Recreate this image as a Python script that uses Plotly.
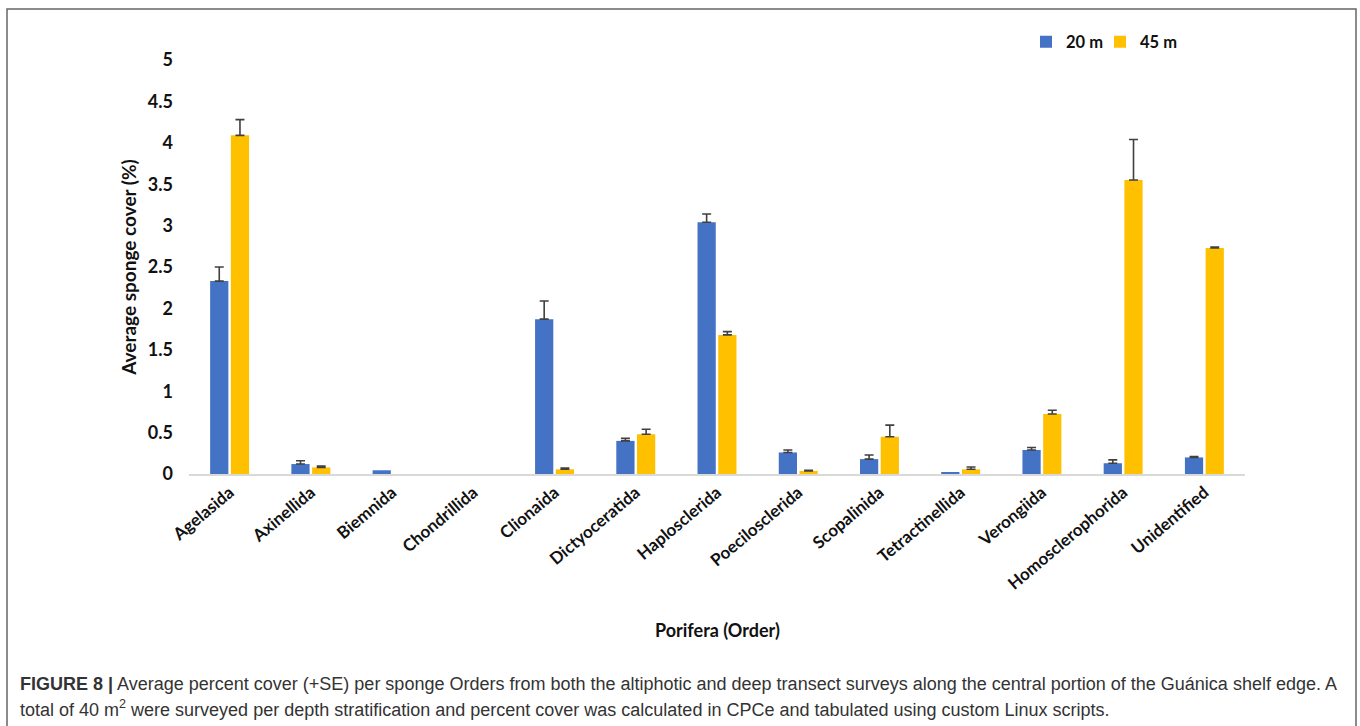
import plotly.graph_objects as go

# Sponge orders surveyed
orders = ["Agelasida", "Axinellida", "Biemnida", "Chondrillida", "Clionaida",
          "Dictyoceratida", "Haplosclerida", "Poecilosclerida", "Scopalinida",
          "Tetractinellida", "Verongiida", "Homosclerophorida", "Unidentified"]

# Average percent cover and standard error at each depth (None = no error bar)
cover_20m = [2.33, 0.12, 0.045, 0.0, 1.87, 0.40, 3.04, 0.26, 0.18, 0.024, 0.29, 0.13, 0.20]
se_20m = [0.17, 0.04, None, None, 0.22, 0.03, 0.10, 0.03, 0.05, None, 0.03, 0.04, 0.01]
cover_45m = [4.09, 0.08, 0.0, 0.0, 0.057, 0.48, 1.68, 0.036, 0.45, 0.057, 0.725, 3.55, 2.73]
se_45m = [0.19, 0.015, None, None, 0.015, 0.06, 0.04, 0.01, 0.14, 0.028, 0.045, 0.49, 0.01]

y_ticks = [0, 0.5, 1, 1.5, 2, 2.5, 3, 3.5, 4, 4.5, 5]

BLUE = "#4472C4"
GOLD = "#FFC000"
ERR = "#404040"
CHART_FONT = "Lato, Open Sans, sans-serif"
CAPTION_FONT = "Liberation Sans Narrow, Arial Narrow, Liberation Sans, Arial, sans-serif"

W, H = 1360, 726
ML, MR, MT, MB = 189, 115, 60, 252
PW, PH = W - ML - MR, H - MT - MB


def px_x(p):
    return (p - ML) / PW


def px_y(p):
    return 1 - (p - MT) / PH


def up_only(se):
    # plotly.js skips an error bar whose plus and minus values are both NaN
    plus = [s if s is not None else "NaN" for s in se]
    minus = [0 if s is not None else "NaN" for s in se]
    return dict(type="data", array=plus, arrayminus=minus, symmetric=False,
                color=ERR, thickness=1.6, width=4.5)


def legend_box(left_px):
    return dict(orientation="h", x=px_x(left_px), y=px_y(42), xanchor="left",
                yanchor="middle", font=dict(size=16.5, family=CHART_FONT, weight="bold"),
                itemwidth=30, bgcolor="rgba(0,0,0,0)")


fig = go.Figure()
fig.add_trace(go.Bar(name="20 m", x=orders, y=cover_20m, marker_color=BLUE,
                     marker_line_width=0, error_y=up_only(se_20m), legend="legend"))
fig.add_trace(go.Bar(name="45 m", x=orders, y=cover_45m, marker_color=GOLD,
                     marker_line_width=0, error_y=up_only(se_45m), legend="legend2"))

fig.update_layout(
    width=W, height=H,
    margin=dict(l=ML, r=MR, t=MT, b=MB),
    paper_bgcolor="white", plot_bgcolor="white",
    barmode="group", bargap=0.49, bargroupgap=0.12,
    font=dict(family=CHART_FONT, color="#111111"),
    showlegend=True,
    legend=legend_box(1026),
    legend2=legend_box(1100),
)

fig.update_xaxes(
    type="category", tickangle=-40, showgrid=False, zeroline=False,
    showline=True, linecolor="#d9d9d9", linewidth=2, ticks="",
    tickfont=dict(size=17, family=CHART_FONT, weight="bold", color="#111111"),
)
fig.update_yaxes(
    range=[0, 5], tickvals=y_ticks, showgrid=False, zeroline=False,
    showline=False, ticks="", ticklabelstandoff=15,
    tickfont=dict(size=18, family=CHART_FONT, weight="bold", color="#111111"),
    title=dict(text="Average sponge cover (%)", standoff=6,
               font=dict(size=19, family=CHART_FONT, weight="bold", color="#111111")),
)

# x-axis title
fig.add_annotation(
    text="<b>Porifera (Order)</b>", xref="paper", yref="paper",
    x=0.5, y=px_y(630), xanchor="center", yanchor="middle", showarrow=False,
    font=dict(size=18, family=CHART_FONT, color="#111111"),
)

# figure caption
fig.add_annotation(
    text="<b>FIGURE 8 |</b> Average percent cover (+SE) per sponge Orders from both the "
         "altiphotic and deep transect surveys along the central portion of the Guánica shelf edge. A",
    xref="paper", yref="paper", x=px_x(18), y=px_y(684), xanchor="left",
    yanchor="middle", showarrow=False, align="left",
    font=dict(size=18, family=CAPTION_FONT, color="#333333"),
)
fig.add_annotation(
    text="total of 40 m<sup>2</sup> were surveyed per depth stratification and percent "
         "cover was calculated in CPCe and tabulated using custom Linux scripts.",
    xref="paper", yref="paper", x=px_x(18), y=px_y(708), xanchor="left",
    yanchor="middle", showarrow=False, align="left",
    font=dict(size=18, family=CAPTION_FONT, color="#333333"),
)

# outer frame around the figure panel
fig.add_shape(
    type="rect", xref="paper", yref="paper",
    x0=px_x(7), x1=px_x(1356), y0=px_y(740), y1=px_y(9),
    line=dict(color="#666666", width=1.5), fillcolor="rgba(0,0,0,0)", layer="below",
)

fig.write_html("out.html")
